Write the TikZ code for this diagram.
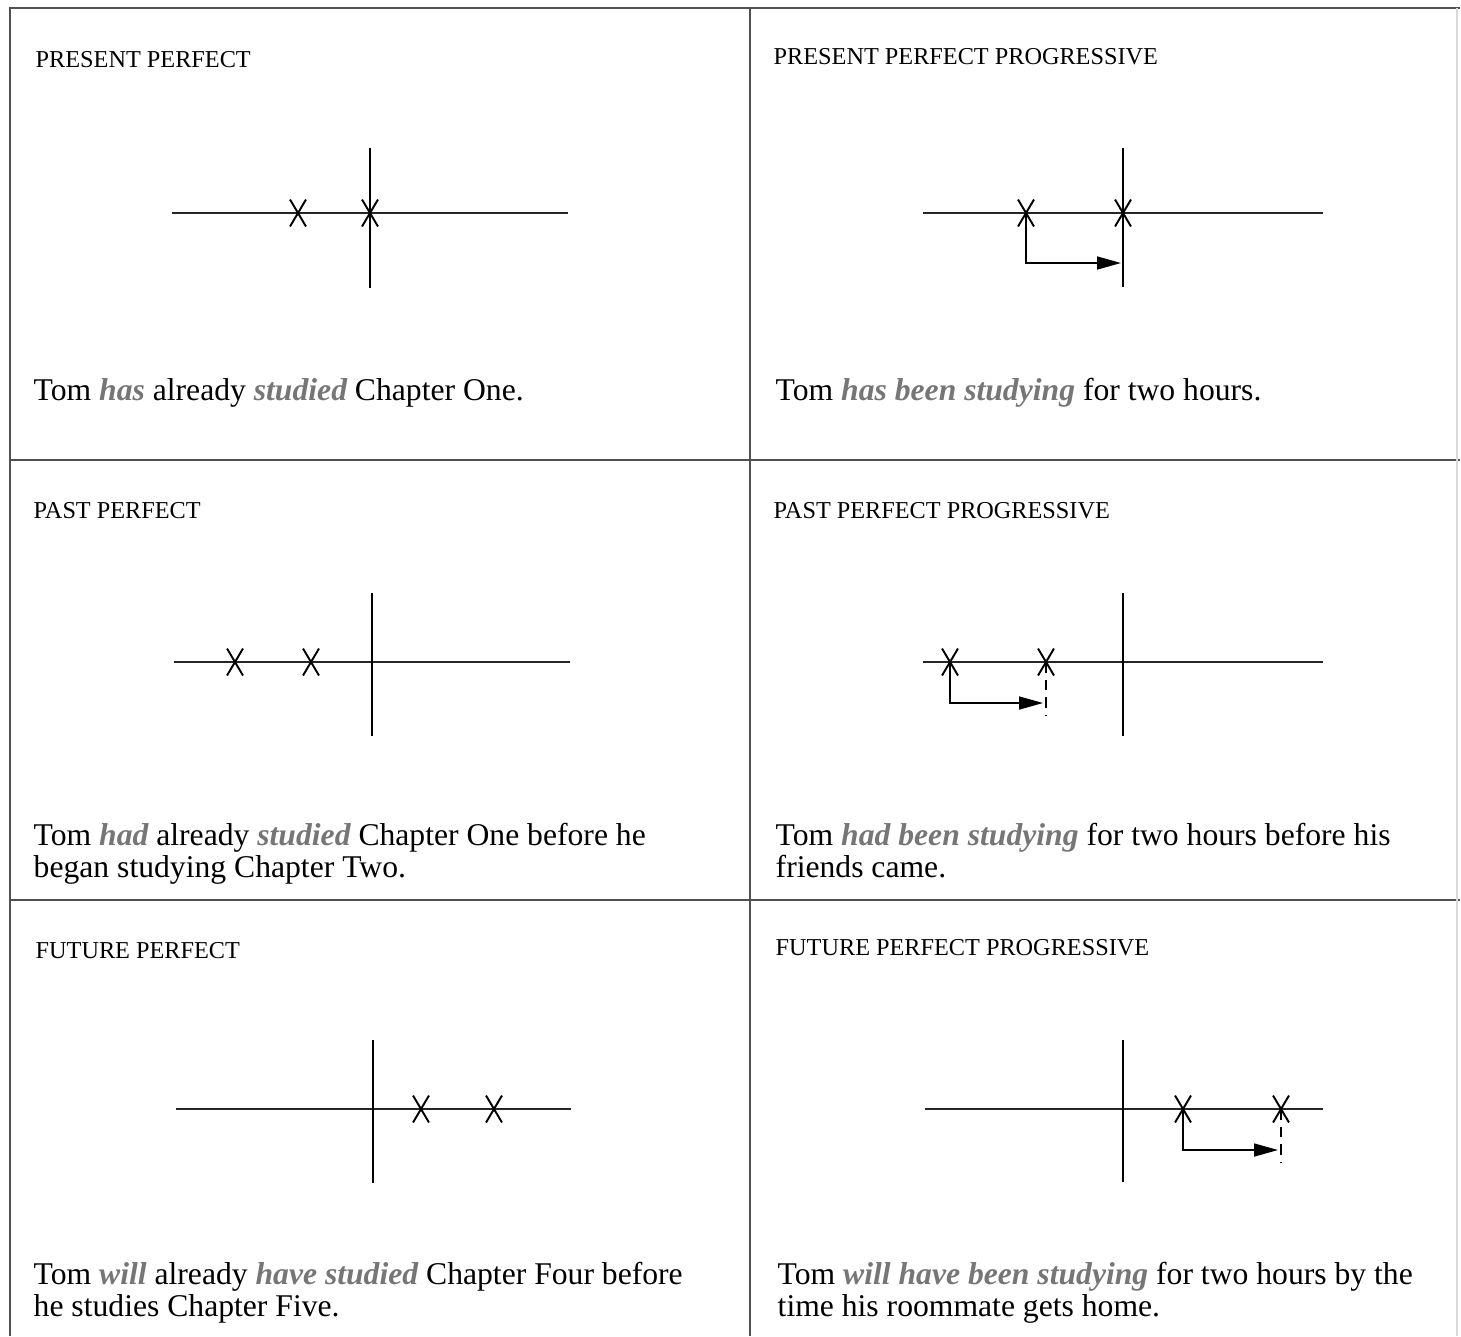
\documentclass[tikz,border=0pt]{standalone}
\usepackage{fontspec}
\setmainfont{Liberation Serif}
\usepackage{xcolor}
\definecolor{verbgray}{RGB}{118,118,118}
\definecolor{rulegray}{RGB}{80,80,80}
\usetikzlibrary{arrows.meta,shapes.misc}
\newcommand{\verbword}[1]{{\color{verbgray}\bfseries\itshape #1}}
\tikzset{
  panelline/.style={line width=0.6pt, rulegray},
  tline/.style={line width=0.55pt, black!85},
  nowline/.style={line width=0.7pt, black},
  xmark/.style={draw, cross out, line width=0.55pt, minimum width=0.14cm,
                minimum height=0.25cm, inner sep=0pt},
  durarrow/.style={-{Triangle[length=2.4mm,width=1.3mm]}, line width=0.45pt},
  endmark/.style={densely dashed, line width=0.55pt},
  tensehead/.style={anchor=base west, inner sep=0pt, font=\fontsize{6.9}{8}\selectfont},
  sentence/.style={anchor=base west, inner sep=0pt, align=left,
                   font=\fontsize{9}{9.1}\selectfont},
}
\begin{document}
\begin{tikzpicture}[x=0.01cm,y=-0.01cm]
  \useasboundingbox (0,0) rectangle (1461,1336);

  % frame and panel rules
  \draw[panelline] (10,1336) -- (10,8) -- (1460,8);
  \draw[panelline] (750,8) -- (750,1336);
  \draw[panelline] (10,460) -- (1460,460);
  \draw[panelline] (10,900) -- (1460,900);
  \draw[gray!30, line width=0.4pt] (1457,8) -- (1457,1336);

  % present perfect
  \node[tensehead] (ppHead) at (35,67) {PRESENT PERFECT};
  \draw[tline] (172,213) -- (568,213);
  \draw[nowline] (370,148) -- (370,288);
  \node[xmark] (ppA) at (298,213) {};
  \node[xmark] (ppB) at (370,213) {};
  \node[sentence] (ppText) at (33,400)
    {Tom \verbword{has} already \verbword{studied} Chapter One.};

  % present perfect progressive
  \node[tensehead] (pppHead) at (773,64) {PRESENT PERFECT PROGRESSIVE};
  \draw[tline] (923,213) -- (1323,213);
  \draw[nowline] (1123,148) -- (1123,287);
  \node[xmark] (pppA) at (1026,213) {};
  \node[xmark] (pppB) at (1123,213) {};
  \coordinate (pppEnd) at (1121,263);
  \draw[durarrow] (pppA.center) |- (pppEnd);
  \node[sentence] (pppText) at (775,400)
    {Tom \verbword{has been studying} for two hours.};

  % past perfect (base = last line)
  \node[tensehead] (paHead) at (33,518) {PAST PERFECT};
  \draw[tline] (174,662) -- (570,662);
  \draw[nowline] (372,593) -- (372,736);
  \node[xmark] (paA) at (235,662) {};
  \node[xmark] (paB) at (311,662) {};
  \node[sentence] (paText) at (33,877)
    {Tom \verbword{had} already \verbword{studied} Chapter One before he\\
     began studying Chapter Two.};

  % past perfect progressive
  \node[tensehead] (papHead) at (773,518) {PAST PERFECT PROGRESSIVE};
  \draw[tline] (923,662) -- (1323,662);
  \draw[nowline] (1123,593) -- (1123,736);
  \node[xmark] (papA) at (950,662) {};
  \node[xmark] (papB) at (1046,662) {};
  \coordinate (papEnd) at (1043,703);
  \coordinate (papLow) at (1046,716);
  \draw[durarrow] (papA.center) |- (papEnd);
  \draw[endmark] (papB.center) -- (papLow);
  \node[sentence] (papText) at (775,877)
    {Tom \verbword{had been studying} for two hours before his\\
     friends came.};

  % future perfect
  \node[tensehead] (fuHead) at (35,958) {FUTURE PERFECT};
  \draw[tline] (176,1109) -- (571,1109);
  \draw[nowline] (373,1040) -- (373,1183);
  \node[xmark] (fuA) at (421,1109) {};
  \node[xmark] (fuB) at (494,1109) {};
  \node[sentence] (fuText) at (33,1316)
    {Tom \verbword{will} already \verbword{have studied} Chapter Four before\\
     he studies Chapter Five.};

  % future perfect progressive
  \node[tensehead] (fupHead) at (775,955) {FUTURE PERFECT PROGRESSIVE};
  \draw[tline] (925,1109) -- (1323,1109);
  \draw[nowline] (1123,1040) -- (1123,1182);
  \node[xmark] (fupA) at (1183,1109) {};
  \node[xmark] (fupB) at (1281,1109) {};
  \coordinate (fupEnd) at (1278,1150);
  \coordinate (fupLow) at (1281,1162);
  \draw[durarrow] (fupA.center) |- (fupEnd);
  \draw[endmark] (fupB.center) -- (fupLow);
  \node[sentence] (fupText) at (777,1316)
    {Tom \verbword{will have been studying} for two hours by the\\
     time his roommate gets home.};
\end{tikzpicture}
\end{document}
